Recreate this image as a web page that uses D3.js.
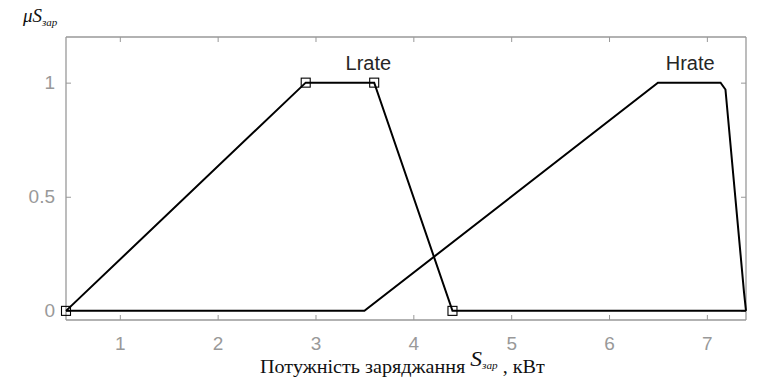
<!DOCTYPE html>
<html>
<head>
<meta charset="utf-8">
<script src="https://cdn.jsdelivr.net/npm/d3@7"></script>
<style>
  body { margin: 0; background: #fff; }
  svg { display: block; }
</style>
</head>
<body>
<svg id="vis" width="768" height="386"></svg>
<script>
// membership functions of charging power
const xTicks = [1, 2, 3, 4, 5, 6, 7];
const yTicks = [0, 0.5, 1];
const yTickLabels = ["0", "0.5", "1"];

const lrateX = [0.45, 2.9, 3.6, 4.4, 7.4];
const lrateY = [0, 1, 1, 0, 0];
const lrateMarkers = [0, 1, 2, 3]; // indices with square markers

const hrateX = [0.45, 3.5, 6.5, 7.14, 7.19, 7.38, 7.4];
const hrateY = [0, 0, 1, 1, 0.97, 0.08, 0];

const labels = ["Lrate", "Hrate"];
const labelX = [3.54, 6.83];
const labelY = [1.057, 1.057];

const svg = d3.select("#vis");
const m = { left: 66, right: 746, top: 37, bottom: 320 };

const x = d3.scaleLinear().domain([0.45, 7.4]).range([m.left, m.right]);
const y = d3.scaleLinear().domain([-0.04, 1.2]).range([m.bottom, m.top]);

const gray = "#999";

// axes, ticks inside on all four sides
const axB = svg.append("g").attr("transform", `translate(0,${m.bottom})`)
  .call(d3.axisBottom(x).tickValues(xTicks).tickSize(-5).tickPadding(17).tickFormat(d3.format("d")));
const axT = svg.append("g").attr("transform", `translate(0,${m.top})`)
  .call(d3.axisTop(x).tickValues(xTicks).tickSize(-5).tickFormat(""));
const axL = svg.append("g").attr("transform", `translate(${m.left},0)`)
  .call(d3.axisLeft(y).tickValues(yTicks).tickSize(-5).tickPadding(11).tickFormat((d, i) => yTickLabels[i]));
const axR = svg.append("g").attr("transform", `translate(${m.right},0)`)
  .call(d3.axisRight(y).tickValues(yTicks).tickSize(-5).tickFormat(""));

[axB, axT, axL, axR].forEach(a => {
  a.select(".domain").attr("stroke", gray).attr("stroke-width", 1.3);
  a.selectAll(".tick line").attr("stroke", gray);
  a.selectAll(".tick text")
    .attr("fill", gray)
    .attr("font-family", "Liberation Sans, Arial, sans-serif")
    .attr("font-size", 19);
});
// trim domain caps
axB.select(".domain").attr("d", `M${m.left},0H${m.right}`);
axT.select(".domain").attr("d", `M${m.left},0H${m.right}`);
axL.select(".domain").attr("d", `M0,${m.top}V${m.bottom}`);
axR.select(".domain").attr("d", `M0,${m.top}V${m.bottom}`);

const line = d3.line().x(d => x(d[0])).y(d => y(d[1]));

svg.append("path")
  .datum(hrateX.map((v, i) => [v, hrateY[i]]))
  .attr("d", line)
  .attr("fill", "none").attr("stroke", "#000").attr("stroke-width", 2);

svg.append("path")
  .datum(lrateX.map((v, i) => [v, lrateY[i]]))
  .attr("d", line)
  .attr("fill", "none").attr("stroke", "#000").attr("stroke-width", 2);

svg.selectAll("rect.mk")
  .data(lrateMarkers)
  .enter().append("rect")
  .attr("class", "mk")
  .attr("x", i => x(lrateX[i]) - 4.5)
  .attr("y", i => y(lrateY[i]) - 4.5)
  .attr("width", 9).attr("height", 9)
  .attr("fill", "none").attr("stroke", "#000").attr("stroke-width", 1.1);

svg.selectAll("text.mf")
  .data(labels)
  .enter().append("text")
  .attr("class", "mf")
  .attr("x", (d, i) => x(labelX[i]))
  .attr("y", (d, i) => y(labelY[i]))
  .attr("text-anchor", "middle")
  .attr("font-family", "Liberation Sans, Arial, sans-serif")
  .attr("font-size", 20)
  .attr("fill", "#262626")
  .text(d => d);

// y label
const yl = svg.append("text")
  .attr("x", 23).attr("y", 22)
  .attr("font-family", "Liberation Serif, Times New Roman, serif")
  .attr("font-style", "italic")
  .attr("font-size", 19)
  .attr("fill", "#111");
yl.append("tspan").text("μS");
yl.append("tspan").attr("font-size", 11).attr("dy", 4).text("зар");

// x label (source picture is stretched horizontally)
const xl = svg.append("text")
  .attr("transform", "translate(260,373) scale(1.12,1)")
  .attr("font-family", "Liberation Serif, Times New Roman, serif")
  .attr("font-size", 18)
  .attr("fill", "#111");
xl.append("tspan").text("Потужність заряджання ");
xl.append("tspan").attr("font-style", "italic").attr("font-size", 21).attr("dy", -7).text("S");
xl.append("tspan").attr("font-style", "italic").attr("font-size", 10).attr("dy", 3).text("зар");
xl.append("tspan").attr("dy", 4).text(" , кВт");
</script>
</body>
</html>
